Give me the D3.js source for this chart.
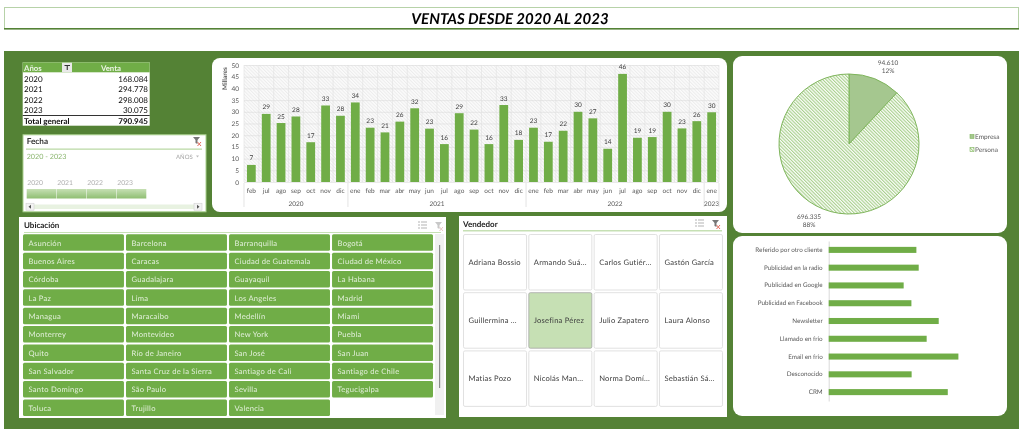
<!DOCTYPE html>
<html>
<head>
<meta charset="utf-8">
<script src="https://cdn.jsdelivr.net/npm/d3@7"></script>
<style>
  html, body { margin: 0; padding: 0; background: #fff; }
  svg { display: block; font-family: Lato, "Open Sans", sans-serif; text-rendering: geometricPrecision; filter: blur(0.3px); }
</style>
</head>
<body>
<svg width="1024" height="436"></svg>
<script>
const years = ['2020', '2021', '2022', '2023'];
const yearSales = ['168.084', '294.778', '298.008', '30.075'];
const months = ['feb','jul','ago','sep','oct','nov','dic',
  'ene','feb','mar','abr','may','jun','jul','ago','sep','oct','nov','dic',
  'ene','feb','mar','abr','may','jun','jul','ago','sep','oct','nov','dic','ene'];
const monthSales = [7.3, 29.1, 25.2, 28, 17, 32.7, 28.3,
  34, 23.2, 21.2, 25.8, 31.5, 22.8, 16.2, 29.4, 22.4, 16.2, 32.9, 18,
  23.2, 17.2, 21.9, 30, 27.2, 14.2, 46.2, 18.9, 19.2, 30, 22.9, 26, 29.8];
const monthLabels = [7,29,25,28,17,33,28,34,23,21,26,32,23,16,29,22,16,33,18,23,17,22,30,27,14,46,19,19,30,23,26,30];
const yearMonthCounts = [7, 12, 12, 1];
const clientTypes = ['Empresa', 'Persona'];
const clientValues = [94.61, 696.335];
const clientLabels = ['94.610', '696.335'];
const clientPercents = ['12%', '88%'];
const channels = ['Referido por otro cliente','Publicidad en la radio','Publicidad en Google','Publicidad en Facebook','Newsletter','Llamado en frío','Email en frío','Desconocido','CRM'];
const channelSales = [79.3, 81.4, 67.8, 74.8, 99.5, 88.6, 117.3, 75, 107.7];
const cities = ['Asunción','Barcelona','Barranquilla','Bogotá','Buenos Aires','Caracas','Ciudad de Guatemala','Ciudad de México',
  'Córdoba','Guadalajara','Guayaquil','La Habana','La Paz','Lima','Los Angeles','Madrid','Managua','Maracaibo','Medellín','Miami',
  'Monterrey','Montevideo','New York','Puebla','Quito','Río de Janeiro','San José','San Juan','San Salvador','Santa Cruz de la Sierra','Santiago de Cali','Santiago de Chile',
  'Santo Domingo','São Paulo','Sevilla','Tegucigalpa','Toluca','Trujillo','Valencia'];
const sellers = ['Adriana Bossio','Armando Suá...','Carlos Gutiér...','Gastón García','Guillermina ...','Josefina Pérez','Julio Zapatero','Laura Alonso','Matias Pozo','Nicolás Man...','Norma Domí...','Sebastián Sá...'];
const selectedSeller = 'Josefina Pérez';

const GREEN = '#70ad47', DARK = '#548235', TXT = '#595959';
const svg = d3.select('svg');

const defs = svg.append('defs');
const hatch = (id, fg, bg, size, sw) => {
  const p = defs.append('pattern').attr('id', id).attr('patternUnits', 'userSpaceOnUse')
    .attr('width', size).attr('height', size).attr('patternTransform', 'rotate(-45)');
  p.append('rect').attr('width', size).attr('height', size).attr('fill', bg);
  p.append('rect').attr('width', sw).attr('height', size).attr('fill', fg);
};
hatch('plotHatch', '#ececec', '#fbfbfb', 2.4, 1);
hatch('pieHatch', '#a9d08e', '#fbfdf9', 2.4, 1.1);

const panel = (x, y, w, h, r = 0, fill = '#fff') => svg.append('rect')
  .attr('x', x).attr('y', y).attr('width', w).attr('height', h).attr('rx', r).attr('fill', fill);

// title and background
svg.append('rect').attr('x', 4.5).attr('y', 7.5).attr('width', 1014).attr('height', 21)
  .attr('fill', '#fff').attr('stroke', '#b7d2a8');
svg.append('rect').attr('x', 4).attr('y', 28).attr('width', 1015).attr('height', 1.6).attr('fill', DARK);
svg.append('text').attr('x', 510).attr('y', 24).attr('text-anchor', 'middle')
  .attr('font-size', 15).attr('font-weight', 700).attr('font-style', 'italic')
  .attr('fill', '#000').text('VENTAS DESDE 2020 AL 2023');
panel(4, 51, 1015, 378, 0, DARK);

// pivot table
panel(22.7, 62.3, 127, 63.4);
panel(22.7, 62.3, 127, 10, 0, GREEN);
panel(62, 62.7, 10, 9.5, 0, '#e9e9e9');
const pivot = svg.append('g');
pivot.append('text').attr('x', 24).attr('y', 70.5).attr('font-size', 7.8).attr('font-weight', 700).attr('fill', '#eaf3e3').text('Años');
pivot.append('path').attr('d', 'M64.5 65H70V66H67.8V70H66.7V66H64.5Z').attr('fill', '#333');
pivot.append('text').attr('x', 111).attr('y', 70.5).attr('text-anchor', 'middle').attr('font-size', 7.8).attr('font-weight', 700).attr('fill', '#eaf3e3').text('Venta');
const rowY = d3.scaleBand().domain(d3.range(5)).range([73, 126]);
const pivotRows = pivot.selectAll('g.row').data(years.concat('Total general')).join('g').attr('class', 'row');
pivotRows.append('text').attr('x', 24).attr('y', (d, i) => rowY(i) + 8.5).attr('font-size', 8)
  .attr('font-weight', (d, i) => i === 4 ? 700 : 400).attr('fill', '#111').text(d => d);
pivotRows.append('text').attr('x', 148).attr('y', (d, i) => rowY(i) + 8.5).attr('text-anchor', 'end').attr('font-size', 8)
  .attr('font-weight', (d, i) => i === 4 ? 700 : 400).attr('fill', '#111').text((d, i) => i === 4 ? '790.945' : yearSales[i]);
panel(22.7, 115, 127, 1, 0, '#333');

// filter icon with the small red cross
const filterIcon = (x, y, color, cross) => {
  const g = svg.append('g').attr('transform', `translate(${x},${y})`);
  g.append('path').attr('d', 'M0 0H7L4.5 3V7L2.5 6V3Z').attr('fill', color);
  g.append('path').attr('d', 'M4.5 5L8 9M8 5L4.5 9').attr('stroke', cross).attr('stroke-width', 1);
};

// date slicer
svg.append('rect').attr('x', 23).attr('y', 134.8).attr('width', 183).attr('height', 77).attr('fill', '#fff').attr('stroke', '#a9d08e');
svg.append('text').attr('x', 26.7).attr('y', 144).attr('font-size', 8.2).attr('font-weight', 700).attr('fill', '#333').text('Fecha');
filterIcon(193, 137, '#777', '#e46c5e');
panel(26, 148.6, 176, 1, 0, '#a9d08e');
svg.append('text').attr('x', 26.7).attr('y', 159).attr('font-size', 7.2).attr('fill', '#8ab56e').text('2020 - 2023');
svg.append('text').attr('x', 176).attr('y', 158.5).attr('font-size', 6).attr('fill', '#a6a6a6').text('AÑOS');
svg.append('path').attr('d', 'M196 155.5h3l-1.5 2z').attr('fill', '#bbb');
const sliderX = d3.scaleBand().domain(years).range([26.7, 146.7]);
svg.selectAll('text.tlYear').data(years).join('text').attr('class', 'tlYear')
  .attr('x', d => sliderX(d) + 0.5).attr('y', 185).attr('font-size', 6.8).attr('fill', '#b0b0b0').text(d => d);
const sliderGrad = defs.append('linearGradient').attr('id', 'sliderGrad').attr('x1', 0).attr('x2', 0).attr('y1', 0).attr('y2', 1);
sliderGrad.append('stop').attr('offset', 0).attr('stop-color', '#c6e0b4');
sliderGrad.append('stop').attr('offset', 1).attr('stop-color', '#8fbe72');
svg.selectAll('rect.tlBar').data(years).join('rect').attr('class', 'tlBar')
  .attr('x', d => sliderX(d)).attr('y', 189).attr('width', sliderX.bandwidth() - 0.4).attr('height', 9.5).attr('fill', 'url(#sliderGrad)');
panel(26, 204.5, 176, 4.5, 0, '#e8f2e1');
[26, 194].forEach((x, i) => {
  svg.append('rect').attr('x', x).attr('y', 203.2).attr('width', 8).attr('height', 7).attr('fill', '#f2f2f2').attr('stroke', '#ccc').attr('stroke-width', .5);
  svg.append('path').attr('d', i ? `M${x + 3} 204.7l2.5 2-2.5 2z` : `M${x + 5} 204.7l-2.5 2 2.5 2z`).attr('fill', '#555');
});

// monthly columns
panel(212, 58, 515, 154, 8);
const plot = { left: 244, right: 719, top: 65, bottom: 182 };
const idx = months.map((d, i) => i);
const x = d3.scaleBand().domain(idx).range([plot.left, plot.right]).paddingInner(0.41).paddingOuter(0.2);
const y = d3.scaleLinear().domain([0, 50]).range([plot.bottom, plot.top]);
svg.append('rect').attr('x', plot.left).attr('y', plot.top).attr('width', plot.right - plot.left).attr('height', plot.bottom - plot.top).attr('fill', 'url(#plotHatch)');
const gridH = svg.append('g').attr('transform', `translate(${plot.left},0)`)
  .call(d3.axisLeft(y).tickValues(d3.range(0, 51, 5)).tickSize(-(plot.right - plot.left)).tickPadding(5));
gridH.select('.domain').remove();
gridH.selectAll('line').attr('stroke', '#dcdcdc').attr('stroke-width', 0.6);
gridH.selectAll('text').attr('font-size', 6.5).attr('font-family', 'Lato').attr('fill', TXT);
svg.append('g').selectAll('line').data(d3.range(33)).join('line')
  .attr('x1', d => plot.left + d * (plot.right - plot.left) / 32).attr('x2', d => plot.left + d * (plot.right - plot.left) / 32)
  .attr('y1', plot.top).attr('y2', plot.bottom).attr('stroke', '#e0e0e0').attr('stroke-width', 0.6);
svg.append('g').selectAll('rect').data(monthSales).join('rect')
  .attr('x', (d, i) => x(i)).attr('y', d => y(d)).attr('width', x.bandwidth()).attr('height', d => y(0) - y(d)).attr('fill', GREEN);
svg.append('g').selectAll('text').data(monthLabels).join('text')
  .attr('x', (d, i) => x(i) + x.bandwidth() / 2).attr('y', (d, i) => y(monthSales[i]) - 4.5)
  .attr('text-anchor', 'middle').attr('font-size', 6.5).attr('fill', '#404040').text(d => d);
svg.append('g').selectAll('text').data(months).join('text')
  .attr('x', (d, i) => x(i) + x.bandwidth() / 2).attr('y', 193).attr('text-anchor', 'middle')
  .attr('font-size', 6.5).attr('fill', TXT).text(d => d);
svg.append('text').attr('transform', 'translate(227,90) rotate(-90)').attr('font-size', 6.5).attr('font-weight', 700).attr('fill', TXT).text('Millares');
let start = 0;
yearMonthCounts.forEach((n, i) => {
  const x0 = plot.left + start * (plot.right - plot.left) / 32, x1 = x0 + n * (plot.right - plot.left) / 32;
  svg.append('line').attr('x1', x0).attr('x2', x0).attr('y1', 183).attr('y2', 207).attr('stroke', '#d9d9d9').attr('stroke-width', 0.7);
  svg.append('text').attr('x', (x0 + x1) / 2).attr('y', 205.5).attr('text-anchor', 'middle').attr('font-size', 6.5).attr('fill', TXT).text(years[i]);
  start += n;
});
svg.append('line').attr('x1', plot.right).attr('x2', plot.right).attr('y1', 183).attr('y2', 207).attr('stroke', '#d9d9d9').attr('stroke-width', 0.7);

// pie
panel(733, 56, 274, 177, 9);
const pieG = svg.append('g').attr('transform', 'translate(849,144)');
const arcs = d3.pie().sort(null)(clientValues);
pieG.selectAll('path').data(arcs).join('path')
  .attr('d', d3.arc().innerRadius(0).outerRadius(70))
  .attr('fill', (d, i) => i ? 'url(#pieHatch)' : '#a5c78f').attr('stroke', '#7fb55c').attr('stroke-width', 1);
[[888, 65], [809, 219]].forEach((p, i) => {
  svg.append('text').attr('x', p[0]).attr('y', p[1]).attr('text-anchor', 'middle').attr('font-size', 6.5).attr('fill', TXT).text(clientLabels[i]);
  svg.append('text').attr('x', p[0]).attr('y', p[1] + 8).attr('text-anchor', 'middle').attr('font-size', 6.5).attr('fill', TXT).text(clientPercents[i]);
});
clientTypes.forEach((t, i) => {
  const ly = 137 + i * 13;
  svg.append('rect').attr('x', 970).attr('y', ly - 2.5).attr('width', 4).attr('height', 4).attr('fill', i ? 'url(#pieHatch)' : '#a5c78f').attr('stroke', '#7fb55c').attr('stroke-width', 0.6);
  svg.append('text').attr('x', 975).attr('y', ly + 1.8).attr('font-size', 6.5).attr('fill', TXT).text(t);
});

// channel bars
panel(733, 236, 274, 180, 9);
const bx = d3.scaleLinear().domain([0, 140]).range([828.7, 983.5]);
const by = d3.scaleBand().domain(channels).range([241, 401]).paddingInner(0.66).paddingOuter(0.33);
const bAxis = svg.append('g').attr('transform', 'translate(828.7,0)').call(d3.axisLeft(by).tickSize(0).tickPadding(6));
bAxis.select('.domain').attr('stroke', '#d9d9d9');
bAxis.selectAll('text').attr('font-size', 6.3).attr('font-family', 'Lato').attr('fill', TXT);
svg.append('g').selectAll('rect').data(channelSales).join('rect')
  .attr('x', bx(0)).attr('y', (d, i) => by(channels[i])).attr('width', d => bx(d) - bx(0)).attr('height', by.bandwidth()).attr('fill', GREEN);

// location slicer
panel(19, 217, 427, 201);
svg.append('text').attr('x', 24).attr('y', 228).attr('font-size', 8).attr('font-weight', 700).attr('fill', '#222').text('Ubicación');
panel(24, 232, 417, 1, 0, '#c6e0b4');
const listIcon = (x, y, color) => {
  const g = svg.append('g').attr('stroke', color).attr('stroke-width', 0.9);
  d3.range(3).forEach(k => g.append('line').attr('x1', x + 3).attr('x2', x + 9).attr('y1', y + k * 3).attr('y2', y + k * 3));
  d3.range(3).forEach(k => g.append('line').attr('x1', x).attr('x2', x + 2).attr('y1', y + k * 3).attr('y2', y + k * 3));
};
listIcon(418, 222, '#aaa');
filterIcon(435, 222, '#c8c8c8', '#e8c8c4');
const cityCol = d3.scaleBand().domain(d3.range(4)).range([23, 433]).paddingInner(0.02).paddingOuter(0);
const cityG = svg.append('g').selectAll('g').data(cities).join('g')
  .attr('transform', (d, i) => `translate(${cityCol(i % 4)},${234.3 + Math.floor(i / 4) * 18.35})`);
cityG.append('rect').attr('width', cityCol.bandwidth()).attr('height', 16.5).attr('rx', 1.5).attr('fill', GREEN);
cityG.append('text').attr('x', 5.5).attr('y', 11.3).attr('font-size', 7.6).attr('letter-spacing', 0.25).attr('fill', '#e2efda').text(d => d);
panel(435, 234, 9, 181, 0, '#f0f0f0');
panel(439, 245, 1.2, 143, 0, '#8c8c8c');

// seller slicer
panel(459, 216, 268, 201);
svg.append('text').attr('x', 463).attr('y', 226.5).attr('font-size', 8).attr('font-weight', 700).attr('fill', '#222').text('Vendedor');
panel(463, 230, 259, 1.5, 0, '#c6e0b4');
listIcon(695, 220, '#aaa');
filterIcon(712, 220, '#777', '#e46c5e');
const sellerCol = d3.scaleBand().domain(d3.range(4)).range([463.5, 722.5]).paddingInner(0.035);
const sellerG = svg.append('g').selectAll('g').data(sellers).join('g')
  .attr('transform', (d, i) => `translate(${sellerCol(i % 4)},${234.5 + Math.floor(i / 4) * 58.2})`);
sellerG.append('rect').attr('width', sellerCol.bandwidth()).attr('height', 55.5).attr('rx', 1.5)
  .attr('fill', d => d === selectedSeller ? '#c6e0b4' : '#fff').attr('stroke', d => d === selectedSeller ? '#a6a6a6' : '#d9d9d9').attr('stroke-width', 0.8);
sellerG.append('text').attr('x', 5).attr('y', 30.5).attr('font-size', 7.6).attr('letter-spacing', 0.2).attr('fill', '#404040').text(d => d);
</script>
</body>
</html>
